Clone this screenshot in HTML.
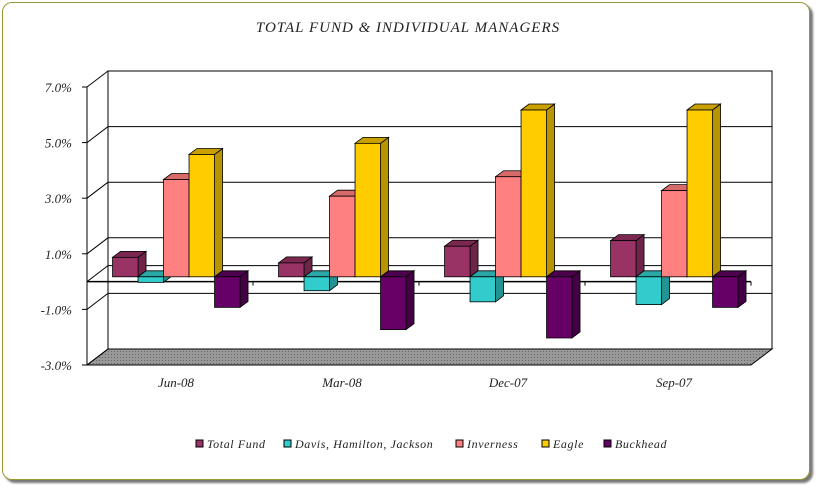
<!DOCTYPE html>
<html><head><meta charset="utf-8"><style>
html,body{margin:0;padding:0;background:#fff;}
body{width:816px;height:486px;overflow:hidden;position:relative;}
#frame{position:absolute;left:2px;top:2px;width:806px;height:476px;border:1px solid #999933;border-radius:10px;box-shadow:3px 3px 2px #777;background:#fff;}
svg{position:absolute;left:0;top:0;}
text{font-family:"Liberation Serif",serif;font-style:italic;fill:#222;}
</style></head><body>
<div id="frame"></div>
<svg id="chart" width="816" height="486">
<defs>
<pattern id="floorpat" width="3" height="3" patternUnits="userSpaceOnUse"><rect width="3" height="3" fill="#999"/><rect width="1" height="1" fill="#666"/></pattern>
</defs>
<text x="408" y="32" text-anchor="middle" font-size="15" letter-spacing="1">TOTAL FUND  &amp; INDIVIDUAL MANAGERS</text>
</svg>
<script>
const categories=["Jun-08","Mar-08","Dec-07","Sep-07"];
const seriesNames=["Total Fund","Davis, Hamilton, Jackson","Inverness","Eagle","Buckhead"];
const totalFund=[0.7,0.5,1.1,1.3];
const davis=[-0.2,-0.5,-0.9,-1.0];
const inverness=[3.5,2.9,3.6,3.1];
const eagle=[4.4,4.8,6.0,6.0];
const buckhead=[-1.1,-1.9,-2.2,-1.1];
const tickValues=[-3,-1,1,3,5,7];
const tickLabels=["-3.0%","-1.0%","1.0%","3.0%","5.0%","7.0%"];
const series=[totalFund,davis,inverness,eagle,buckhead];
const colors=[["#993366","#6e2449","#7a2850"],["#33CCCC","#249393","#2aa8a8"],["#FF8080","#c85a5a","#d96a6a"],["#FFCC00","#b89400","#c9a000"],["#660066","#440044","#4d004d"]];

const svg=document.getElementById('chart');
const NS="http://www.w3.org/2000/svg";
function el(t,a,p){const e=document.createElementNS(NS,t);for(const k in a)e.setAttribute(k,a[k]);(p||svg).appendChild(e);return e;}
const X0=87,X1=751,DX=21,DY=-16,vMin=-3,vMax=7,Ybot=365,Ytop=87;
function y(v){return Ybot-(v-vMin)/(vMax-vMin)*(Ybot-Ytop);}
const catW=(X1-X0)/categories.length;

let g=el('polygon',{points:`${X0},${Ybot} ${X1},${Ybot} ${X1+DX},${Ybot+DY} ${X0+DX},${Ybot+DY}`,fill:'url(#floorpat)',stroke:'#000','stroke-width':1});

g=el('polyline',{points:`${X0+DX},${Ybot+DY} ${X0+DX},${Ytop+DY} ${X1+DX},${Ytop+DY} ${X1+DX},${Ybot+DY}`,fill:'none',stroke:'#000','stroke-width':1});

el('line',{x1:X0,y1:Ybot,x2:X0,y2:Ytop,stroke:'#000'});
const gridVals=tickValues.concat([0]);
gridVals.forEach(v=>{
  const l=el('line',{x1:X0+DX,y1:y(v)+DY,x2:X1+DX,y2:y(v)+DY,stroke:'#000','stroke-width':1});
  
  el('line',{x1:X0,y1:y(v),x2:X0+DX,y2:y(v)+DY,stroke:'#000'});
});
tickValues.forEach((v,i)=>{
  el('line',{x1:X0-5,y1:y(v),x2:X0,y2:y(v),stroke:'#000'});
  const t=el('text',{x:72,y:y(v)+5,'text-anchor':'end','font-size':13});t.textContent=tickLabels[i];
  
});
el('line',{x1:X0,y1:y(0),x2:X1,y2:y(0),stroke:'#000','stroke-width':1.5});
categories.forEach((c,i)=>{el('line',{x1:X0+catW*(i+1),y1:y(0),x2:X0+catW*(i+1),y2:y(0)+4,stroke:'#000'});});

const fd=0.3,bw=25.5,gap=(catW-bw*5)/2,bdx=8,bdy=-6;
const zeroY=y(0)+DY*fd;
categories.forEach((c,ci)=>{
  series.forEach((s,si)=>{
    const v=s[ci];
    const x=X0+ci*catW+gap+si*bw+DX*fd;
    const yt=y(v)+DY*fd;
    const top=Math.min(yt,zeroY),bot=Math.max(yt,zeroY);
    const gg=el('g',{});
    
    
    const col=colors[si];
    el('polygon',{points:`${x+bw},${top} ${x+bw+bdx},${top+bdy} ${x+bw+bdx},${bot+bdy} ${x+bw},${bot}`,fill:col[1],stroke:'#000','stroke-width':0.8},gg);
    el('polygon',{points:`${x},${top} ${x+bdx},${top+bdy} ${x+bw+bdx},${top+bdy} ${x+bw},${top}`,fill:col[2],stroke:'#000','stroke-width':0.8},gg);
    el('rect',{x:x,y:top,width:bw,height:bot-top,fill:col[0],stroke:'#000','stroke-width':0.8},gg);
  });
  const t=el('text',{x:X0+catW*(ci+0.5)+6,y:387,'text-anchor':'middle','font-size':13});t.textContent=c;
  
});
const legX=[196,284,456,542,604];
seriesNames.forEach((n,i)=>{
  const gg=el('g',{});
  
  el('rect',{x:legX[i],y:440,width:7,height:7,fill:colors[i][0],stroke:'#000','stroke-width':1},gg);
  const t=el('text',{x:legX[i]+11,y:448,'font-size':12,'letter-spacing':0.6},gg);t.textContent=n;
});
</script>
</body></html>
